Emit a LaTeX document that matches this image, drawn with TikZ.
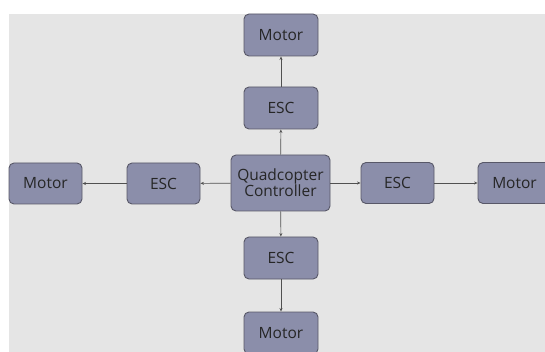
\documentclass[tikz,border=0pt]{standalone}
\usepackage{fontspec}
\setmainfont{Open Sans}
\usetikzlibrary{arrows.meta}
\definecolor{bg}{RGB}{229,229,229}
\definecolor{boxfill}{RGB}{139,142,170}
\definecolor{boxline}{RGB}{88,88,104}
\definecolor{arr}{RGB}{80,80,80}
\begin{document}
\begin{tikzpicture}[x=1pt,y=-1pt,
  blk/.style={draw=boxline, line width=0.9pt, fill=boxfill, rounded corners=5pt,
    minimum width=74pt, minimum height=42pt, inner sep=0pt,
    font=\fontsize{15.5}{18}\selectfont, text=black!85, align=center},
  conn/.style={draw=arr, line width=0.6pt, -{Stealth[length=3.5pt,width=3pt]}}]
\clip (0,0) rectangle (545,352);
\fill[white] (0,0) rectangle (545,352);
\fill[bg] (9,14) rectangle (545,352);
\node[blk, minimum width=99pt, minimum height=56pt] (ctrl) at (280.5,183) {Quadcopter\\[-2pt]Controller};
\node[blk] (escT) at (281,108) {ESC};
\node[blk] (motT) at (281,35) {Motor};
\node[blk] (escB) at (281,258) {ESC};
\node[blk] (motB) at (281,333) {Motor};
\node[blk, minimum width=73pt, minimum height=41pt] (escL) at (163.5,183.5) {ESC};
\node[blk, minimum width=73pt, minimum height=41pt] (motL) at (45.5,183.5) {Motor};
\node[blk, minimum width=73pt, minimum height=41pt] (escR) at (397.5,183) {ESC};
\node[blk, minimum width=73pt, minimum height=41pt] (motR) at (514.5,183) {Motor};
\draw[conn] (ctrl) -- (escT);
\draw[conn] (escT) -- (motT);
\draw[conn] (ctrl) -- (escB);
\draw[conn] (escB) -- (motB);
\draw[conn] (ctrl) -- (escL);
\draw[conn] (escL) -- (motL);
\draw[conn] (ctrl) -- (escR);
\draw[conn] (escR) -- (motR);
\end{tikzpicture}
\end{document}
